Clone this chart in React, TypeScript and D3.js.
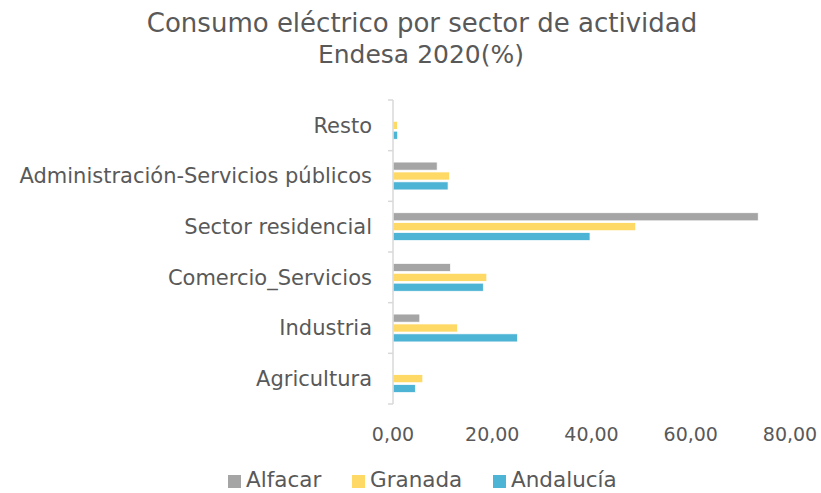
import React, { useEffect, useRef } from 'react';
import * as d3 from 'd3';

const categories = ['Resto', 'Administración-Servicios públicos', 'Sector residencial', 'Comercio_Servicios', 'Industria', 'Agricultura'];
const seriesNames = ['Alfacar', 'Granada', 'Andalucía'];
const alfacar = [0, 8.9, 73.6, 11.6, 5.4, 0];
const granada = [0.9, 11.4, 48.9, 18.9, 13.0, 6.0];
const andalucia = [0.95, 11.1, 39.7, 18.2, 25.1, 4.5];
const xTicks = [0, 20, 40, 60, 80];
const colors = ['#a5a5a5', '#ffd966', '#4eb4d5'];

const FONT = '"DejaVu Sans", sans-serif';

const App = () => {
  const ref = useRef<SVGSVGElement>(null);

  useEffect(() => {
    const svg = d3.select(ref.current);
    svg.selectAll('*').remove();
    const width = 821;
    const height = 493;
    const margin = { top: 100, bottom: 89, left: 393, right: 31 };

    const values = [alfacar, granada, andalucia];

    const y = d3.scaleBand()
      .domain(categories)
      .range([margin.top, height - margin.bottom])
      .paddingInner(0.45)
      .paddingOuter(0.225);

    const ySub = d3.scaleBand()
      .domain(seriesNames)
      .range([0, y.bandwidth()])
      .paddingInner(0.18);

    const x = d3.scaleLinear()
      .domain([0, 80])
      .range([margin.left, width - margin.right]);

    // title
    const title = svg.append('text')
      .attr('text-anchor', 'middle')
      .attr('fill', '#595959')
      .style('font-family', FONT);
    title.append('tspan').attr('x', 422).attr('y', 32).style('font-size', '26px')
      .text('Consumo eléctrico por sector de actividad');
    title.append('tspan').attr('x', 421).attr('y', 63).style('font-size', '25px')
      .text('Endesa 2020(%)');

    // bars
    const groups = svg.append('g')
      .selectAll('g')
      .data(categories)
      .enter().append('g')
      .attr('transform', d => `translate(0,${y(d)})`);

    groups.selectAll('rect')
      .data((d, i) => seriesNames.map((s, j) => ({ s, v: values[j][i], c: colors[j] })))
      .enter().append('rect')
      .filter(d => d.v > 0)
      .attr('x', x(0))
      .attr('y', d => ySub(d.s))
      .attr('width', d => x(d.v) - x(0))
      .attr('height', ySub.bandwidth())
      .attr('fill', d => d.c)
      .attr('stroke', '#ffffff')
      .attr('stroke-width', 0.75);

    // y axis
    const yAxis = svg.append('g')
      .attr('transform', `translate(${margin.left},0)`);
    yAxis.append('line')
      .attr('y1', margin.top).attr('y2', height - margin.bottom)
      .attr('stroke', '#d9d9d9').attr('stroke-width', 1.5);
    const step = y.step();
    const tickYs = d3.range(categories.length + 1).map(i => margin.top + i * step);
    yAxis.selectAll('.tk')
      .data(tickYs)
      .enter().append('line')
      .attr('x1', -5).attr('x2', 0)
      .attr('y1', d => d).attr('y2', d => d)
      .attr('stroke', '#d9d9d9').attr('stroke-width', 1.5);
    yAxis.selectAll('.lbl')
      .data(categories)
      .enter().append('text')
      .attr('x', -21)
      .attr('y', d => y(d) + y.bandwidth() / 2)
      .attr('dy', '0.35em')
      .attr('text-anchor', 'end')
      .attr('fill', '#595959')
      .style('font-family', FONT)
      .style('font-size', '21px')
      .text(d => d);

    // x tick labels
    svg.append('g')
      .selectAll('text')
      .data(xTicks)
      .enter().append('text')
      .attr('x', d => x(d))
      .attr('y', 434)
      .attr('dy', '0.35em')
      .attr('text-anchor', 'middle')
      .attr('fill', '#595959')
      .style('font-family', FONT)
      .style('font-size', '19px')
      .text(d => d3.format('.2f')(d).replace('.', ','));

    // legend
    const legendX = [228, 352, 493];
    const legend = svg.append('g')
      .selectAll('g')
      .data(seriesNames)
      .enter().append('g')
      .attr('transform', (d, i) => `translate(${legendX[i]},487)`);
    legend.append('rect')
      .attr('x', 0).attr('y', -12)
      .attr('width', 13).attr('height', 13)
      .attr('fill', (d, i) => colors[i]);
    legend.append('text')
      .attr('x', 18)
      .attr('fill', '#595959')
      .style('font-family', FONT)
      .style('font-size', '21.5px')
      .text(d => d);
  }, []);

  return (
    <svg ref={ref} width={821} height={493} style={{ position: 'absolute', left: 0, top: 0, background: '#fff' }} />
  );
};

export default App;
